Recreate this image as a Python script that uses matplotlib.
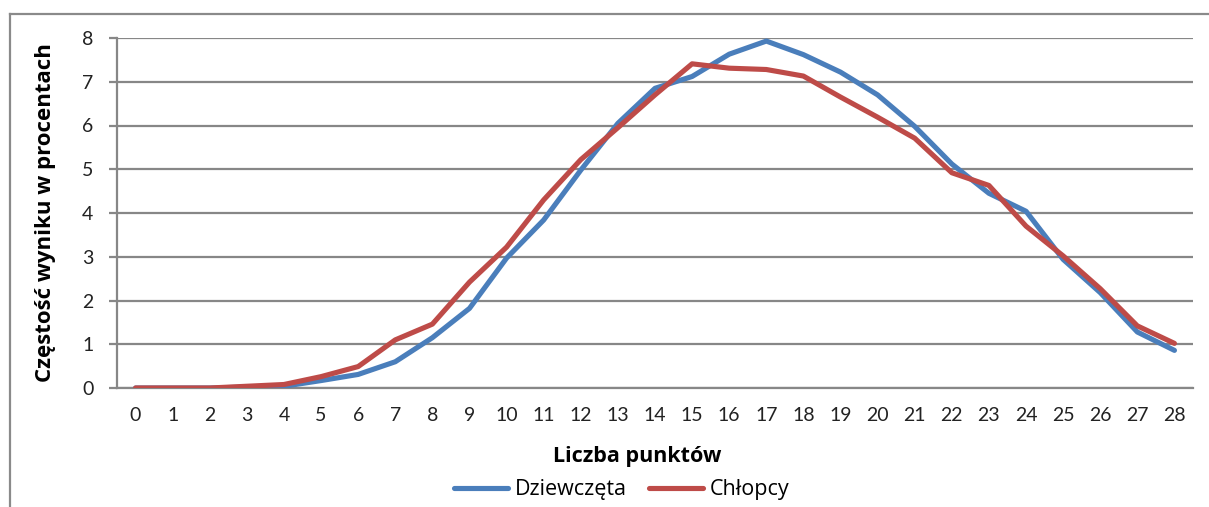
import matplotlib.pyplot as plt
from matplotlib.lines import Line2D

plt.rcParams['font.family'] = ['Lato', 'DejaVu Sans']

punkty = list(range(29))
dziewczeta = [0, 0, 0, 0.02, 0.04, 0.17, 0.31, 0.6, 1.15, 1.82, 2.97, 3.84, 4.98, 6.05,
              6.85, 7.12, 7.63, 7.93, 7.62, 7.22, 6.7, 5.98, 5.12, 4.45, 4.04, 2.94,
              2.18, 1.28, 0.86]
chlopcy = [0, 0, 0, 0.04, 0.08, 0.26, 0.49, 1.1, 1.46, 2.42, 3.22, 4.3, 5.22, 5.95,
           6.7, 7.41, 7.31, 7.28, 7.13, 6.65, 6.19, 5.71, 4.92, 4.63, 3.7, 3.02,
           2.27, 1.42, 1.02]

grid_col = '#878787'
wide_font = ['Open Sans', 'DejaVu Sans']

fig = plt.figure(figsize=(12.09, 5.07), dpi=100)
ax = fig.add_axes([117/1209, 1 - 388/507, (1193 - 117)/1209, (388 - 38)/507])

ax.plot(punkty, dziewczeta, color='#4A7EBB', lw=3.7, label='Dziewczęta',
        solid_joinstyle='round', solid_capstyle='round', zorder=3)
ax.plot(punkty, chlopcy, color='#BE4B48', lw=3.7, label='Chłopcy',
        solid_joinstyle='round', solid_capstyle='round', zorder=3)

ax.set_xlim(-0.5, 28.5)
ax.set_ylim(0, 8)
ax.set_xticks(punkty)
ax.set_yticks(range(9))
ax.yaxis.grid(True, color=grid_col, lw=1.6)
ax.set_axisbelow(True)
for s in ['top', 'right']:
    ax.spines[s].set_visible(False)
ax.spines['left'].set_color(grid_col)
ax.spines['left'].set_linewidth(1.6)
ax.spines['bottom'].set_color(grid_col)
ax.spines['bottom'].set_linewidth(1.6)
ax.tick_params(axis='x', length=0, pad=14, labelsize=14, colors='#222222')
ax.tick_params(axis='y', length=6, width=1.6, color=grid_col, pad=11,
               labelsize=14, labelcolor='#222222')

ax.set_ylabel('Częstość wyniku w procentach', fontsize=16, fontweight='bold',
              family=wide_font)
ax.yaxis.set_label_coords(-0.057, 0.5)
ax.set_xlabel('Liczba punktów', fontsize=15.5, fontweight='bold', family=wide_font)
ax.xaxis.set_label_coords(0.483, -0.165)

ax.legend(loc='center', bbox_to_anchor=(0.469, -0.291), ncol=2, frameon=False,
          prop={'family': wide_font, 'size': 15.5}, handlelength=2.5,
          handletextpad=0.3, columnspacing=1.05)

# ramka wykresu
fig.add_artist(Line2D([10/1209, 1], [1 - 14/507, 1 - 14/507], color='#8a8a8a', lw=1.6))
fig.add_artist(Line2D([10/1209, 10/1209], [0, 1 - 14/507], color='#8a8a8a', lw=1.6))

fig.savefig('out.png', dpi=100)
